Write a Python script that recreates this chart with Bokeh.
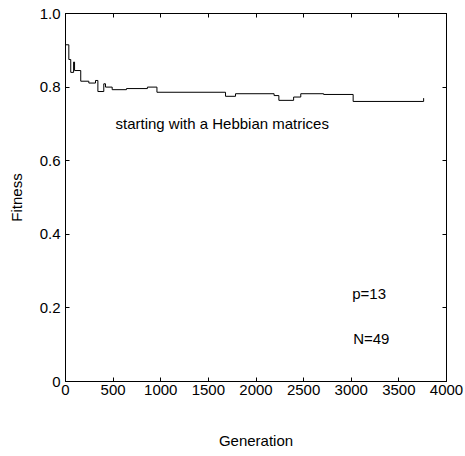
from bokeh.plotting import figure
from bokeh.models import Range1d, LinearAxis, FixedTicker, Label
from bokeh.embed import file_html
from bokeh.resources import INLINE

# Best fitness per generation (step curve, each value holds until the next generation listed)
generation = [0, 35, 55, 85, 95, 160, 245, 315, 340, 402, 420, 490, 640, 860, 960,
              1680, 1785, 2190, 2240, 2395, 2470, 2710, 3020, 3760]
fitness = [0.915, 0.875, 0.840, 0.868, 0.845, 0.816, 0.811, 0.818, 0.788, 0.809, 0.800,
           0.793, 0.796, 0.800, 0.786, 0.775, 0.782, 0.777, 0.764, 0.773, 0.782, 0.780,
           0.761, 0.770]

x_ticks = [0, 500, 1000, 1500, 2000, 2500, 3000, 3500, 4000]
y_ticks = [0, 0.2, 0.4, 0.6, 0.8, 1.0]
y_tick_labels = ["0", "0.2", "0.4", "0.6", "0.8", "1.0"]

FONT = "Liberation Sans"
FS = "15px"

p = figure(width=465, height=456, output_backend="svg", toolbar_location=None,
           x_range=Range1d(0, 4000), y_range=Range1d(0, 1.0),
           min_border_left=65, min_border_right=19, min_border_top=13, min_border_bottom=75)
p.xgrid.visible = False
p.ygrid.visible = False
p.outline_line_color = "black"
p.outline_line_width = 1
p.background_fill_color = "white"
p.border_fill_color = "white"

def style_axis(ax, ticks, show_labels):
    ax.ticker = FixedTicker(ticks=ticks)
    ax.minor_tick_line_color = None
    ax.major_tick_in = 4
    ax.major_tick_out = 0
    ax.axis_line_color = "black"
    ax.major_tick_line_color = "black"
    ax.major_label_text_font = FONT
    ax.major_label_text_color = "black"
    ax.major_label_text_font_size = FS
    if not show_labels:
        # box axes on the top and right carry ticks only
        ax.major_label_overrides = {t: "" for t in ticks}
        ax.major_label_standoff = 0

style_axis(p.xaxis[0], x_ticks, True)
style_axis(p.yaxis[0], y_ticks, True)
p.xaxis[0].major_label_standoff = 3
p.yaxis[0].major_label_standoff = 5
p.yaxis[0].major_label_overrides = {t: s for t, s in zip(y_ticks, y_tick_labels)}

p.xaxis[0].axis_label = "Generation"
p.yaxis[0].axis_label = "Fitness"
for ax in (p.xaxis[0], p.yaxis[0]):
    ax.axis_label_text_font = FONT
    ax.axis_label_text_font_size = FS
    ax.axis_label_text_font_style = "normal"
    ax.axis_label_text_color = "black"
p.xaxis[0].axis_label_standoff = 34
p.yaxis[0].axis_label_standoff = 12

top_axis = LinearAxis()
style_axis(top_axis, x_ticks, False)
p.add_layout(top_axis, "above")
right_axis = LinearAxis()
style_axis(right_axis, y_ticks, False)
p.add_layout(right_axis, "right")

p.step(generation, fitness, mode="after", line_color="black", line_width=1)

for txt, x, y in [("starting with a Hebbian matrices", 525, 0.701),
                  ("p=13", 3010, 0.239),
                  ("N=49", 3020, 0.117)]:
    p.add_layout(Label(x=x, y=y, text=txt, text_font=FONT, text_font_size=FS,
                       text_baseline="middle", text_align="left", text_color="black"))

open("out.html", "w").write(file_html(p, INLINE))
